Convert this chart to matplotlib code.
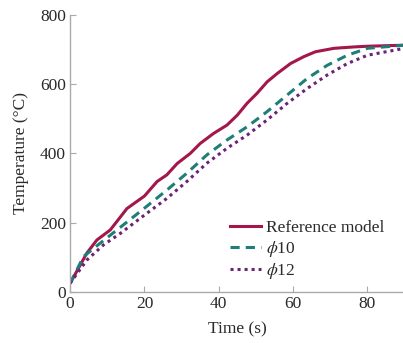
import matplotlib
matplotlib.use("Agg")
import matplotlib.pyplot as plt

plt.rcParams['font.family'] = ['Liberation Serif', 'DejaVu Serif']
plt.rcParams['mathtext.fontset'] = 'stix'

t_ref = [0, 4.5, 7.2, 10.8, 15.3, 20, 23.4, 26, 28.8, 32.3, 35, 38.6, 42.2, 45, 47.6, 50.3, 53, 55.7, 59.3, 62.9, 66, 71, 76.4, 80, 90]
T_ref = [25, 112, 150, 179, 241, 277, 319, 338, 371, 400, 429, 458, 482, 511, 545, 574, 607, 631, 660, 680, 694, 704, 708, 710, 713]

t_p10 = [0, 3.6, 8, 12.6, 20, 26, 31.4, 36.8, 42.2, 47.6, 53, 58.4, 63.8, 69.2, 74.6, 80, 90]
T_p10 = [25, 102, 140, 179, 242, 294, 343, 396, 439, 477, 521, 569, 617, 655, 684, 704, 713]

t_p12 = [0, 4.5, 9, 13.5, 20, 26, 31.4, 36.8, 42.2, 47.6, 53, 58.4, 63.8, 69.2, 74.6, 80, 90]
T_p12 = [25, 92, 136, 169, 222, 270, 319, 372, 415, 453, 497, 545, 588, 627, 660, 684, 704]

labels = ['Reference model', r'$\phi$10', r'$\phi$12']
xticks = [0, 20, 40, 60, 80]
yticks = [0, 200, 400, 600, 800]

FS = 12.5

fig = plt.figure(figsize=(4.03, 3.43), dpi=100)
ax = fig.add_axes([0.174, 0.149, 0.83, 0.807])

ax.plot(t_ref, T_ref, color='#A3174A', lw=2.2, ls='-', label=labels[0])
ax.plot(t_p10, T_p10, color='#1F7F78', lw=2.2, ls=(0, (3, 2)), label=labels[1])
ax.plot(t_p12, T_p12, color='#6B2277', lw=2.2, ls=(0, (1, 1.3)), label=labels[2])

ax.set_xlim(0, 90)
ax.set_ylim(0, 800)
ax.set_xticks(xticks)
ax.set_yticks(yticks)
for s in ['top', 'right']:
    ax.spines[s].set_visible(False)
for s in ['left', 'bottom']:
    ax.spines[s].set_color('#aaaaaa')
    ax.spines[s].set_linewidth(1.0)
ax.tick_params(direction='in', length=4, color='#aaaaaa', labelsize=FS, labelcolor='#2a2a2a', pad=3)
ax.set_xlabel('Time (s)', fontsize=FS, color='#2a2a2a', labelpad=7)
ax.set_ylabel('Temperature (\u00b0C)', fontsize=FS, color='#2a2a2a', labelpad=8)

leg = ax.legend(loc='lower right', bbox_to_anchor=(0.98, -0.012), frameon=False, fontsize=FS,
                handlelength=1.8, handletextpad=0.25, labelspacing=0.15, borderaxespad=0.4)
for txt in leg.get_texts():
    txt.set_color('#2a2a2a')

fig.savefig('out.png', dpi=100)
